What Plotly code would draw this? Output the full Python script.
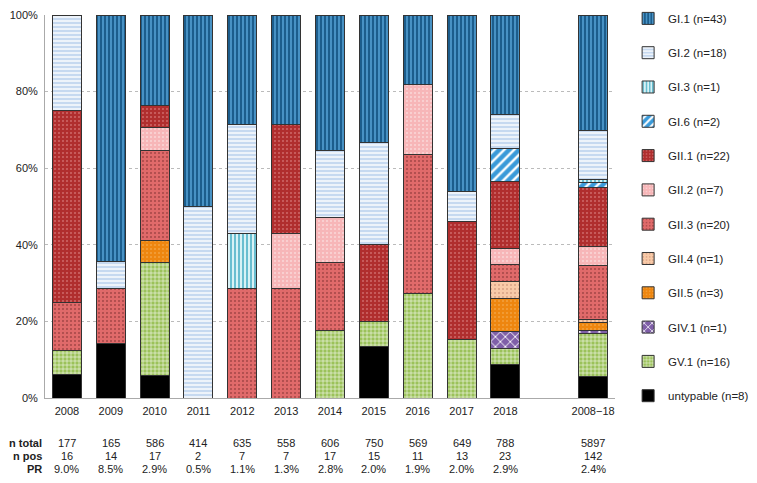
import plotly.graph_objects as go

# ---------------- data ----------------
years = ["2008", "2009", "2010", "2011", "2012", "2013", "2014", "2015",
         "2016", "2017", "2018", "2008\u221218"]
n_total = [177, 165, 586, 414, 635, 558, 606, 750, 569, 649, 788, 5897]
n_pos = [16, 14, 17, 2, 7, 7, 17, 15, 11, 13, 23, 142]
pr = ["9.0%", "8.5%", "2.9%", "0.5%", "1.1%", "1.3%", "2.8%", "2.0%",
      "1.9%", "2.0%", "2.9%", "2.4%"]

# counts per year (last value = 2008-18 total), stacked bottom -> top
untypable = [1, 2, 1, 0, 0, 0, 0, 2, 0, 0, 2, 8]
gv1 = [1, 0, 5, 0, 0, 0, 3, 1, 3, 2, 1, 16]
giv1 = [0, 0, 0, 0, 0, 0, 0, 0, 0, 0, 1, 1]
gii5 = [0, 0, 1, 0, 0, 0, 0, 0, 0, 0, 2, 3]
gii4 = [0, 0, 0, 0, 0, 0, 0, 0, 0, 0, 1, 1]
gii3 = [2, 2, 4, 0, 2, 2, 3, 0, 4, 0, 1, 20]
gii2 = [0, 0, 1, 0, 0, 1, 2, 0, 2, 0, 1, 7]
gii1 = [8, 0, 1, 0, 0, 2, 0, 3, 0, 4, 4, 22]
gi6 = [0, 0, 0, 0, 0, 0, 0, 0, 0, 0, 2, 2]
gi3 = [0, 0, 0, 0, 1, 0, 0, 0, 0, 0, 0, 1]
gi2 = [4, 1, 0, 1, 2, 0, 3, 4, 0, 1, 2, 18]
gi1 = [0, 9, 4, 1, 2, 2, 6, 5, 2, 6, 6, 43]

series = [
    ("untypable", untypable, "#000000", "", "#000000"),
    ("GV.1", gv1, "#9bc25a", "+", "#ffffff"),
    ("GIV.1", giv1, "#7f5fa8", "x", "#ffffff"),
    ("GII.5", gii5, "#ee860f", ".", "#f9c27a"),
    ("GII.4", gii4, "#f8caa8", ".", "#b0705a"),
    ("GII.3", gii3, "#e06a6a", ".", "#5a1a1a"),
    ("GII.2", gii2, "#f7b6b8", ".", "#ffffff"),
    ("GII.1", gii1, "#b02e2e", ".", "#f4b0b0"),
    ("GI.6", gi6, "#3a9ad9", "/", "#ffffff"),
    ("GI.3", gi3, "#d8f2f6", "|", "#3aa8c0"),
    ("GI.2", gi2, "#c6d9f0", "-", "#ffffff"),
    ("GI.1", gi1, "#1c5d8c", "|", "#5aa8dc"),
]

# positions: one empty slot between 2018 and 2008-18
positions = list(range(len(years) - 1)) + [len(years)]

fig = go.Figure()
nser = len(series)
for i, (name, vals, color, shape, fg) in enumerate(series):
    total = vals[-1]
    pct = [100.0 * v / n for v, n in zip(vals, n_pos)]
    pattern = dict(shape=shape, fgcolor=fg, bgcolor=color, fillmode="replace")
    if shape in ("|", "-"):
        pattern.update(size=4, solidity=0.35)
    elif shape == ".":
        pattern.update(size=4, solidity=0.08)
    elif shape == "+":
        pattern.update(size=4, solidity=0.25)
    elif shape == "/":
        pattern.update(size=7, solidity=0.35)
    elif shape == "x":
        pattern.update(size=7, solidity=0.25)
    fig.add_trace(go.Bar(
        x=positions, y=pct,
        name=f"{name} (n={total})",
        legendgroup=name,
        legendrank=nser - i,
        marker=dict(color=color, pattern=pattern,
                    line=dict(color="#333333", width=1)),
        width=0.66,
    ))

# bottom table
row_labels = ["n total", "n pos", "PR"]
row_vals = [n_total, n_pos, pr]
row_y = [-0.118, -0.152, -0.186]
for lab, vals, yy in zip(row_labels, row_vals, row_y):
    fig.add_annotation(text=f"<b>{lab}</b>", xref="paper", yref="paper",
                       x=-0.001, y=yy, xanchor="right", yanchor="middle",
                       showarrow=False, font=dict(size=11, color="#222222"))
    for p, v in zip(positions, vals):
        fig.add_annotation(text=str(v), xref="x", yref="paper",
                           x=p, y=yy, xanchor="center", yanchor="middle",
                           showarrow=False, font=dict(size=11, color="#222222"))

# page body has an 8px margin, so the figure is drawn 8px in from the corner
fig.update_layout(
    barmode="stack",
    width=749, height=475,
    margin=dict(l=37, r=142, t=7, b=85, autoexpand=False),
    paper_bgcolor="white", plot_bgcolor="white",
    font=dict(family="Liberation Sans, Arial, sans-serif", size=11, color="#222222"),
    showlegend=True,
    legend=dict(x=1.023, y=1.029, xanchor="left", yanchor="top",
                traceorder="grouped", tracegroupgap=15.3, maxheight=480,
                font=dict(size=11.5), itemwidth=30, bgcolor="rgba(0,0,0,0)"),
    xaxis=dict(
        tickmode="array", tickvals=positions, ticktext=years,
        range=[-0.5, len(years) + 0.5], showgrid=False,
        showline=True, linecolor="#aaaaaa", linewidth=1,
        ticks="", ticklabelstandoff=3,
    ),
    yaxis=dict(
        range=[0, 100], tickvals=[0, 20, 40, 60, 80, 100],
        ticktext=["0%", "20%", "40%", "60%", "80%", "100%"],
        showgrid=True, gridcolor="#bbbbbb", griddash="3px,3px", gridwidth=1,
        showline=True, linecolor="#aaaaaa", linewidth=1, zeroline=False,
        ticks="", ticklabelstandoff=4, ticklabeloverflow="allow",
    ),
)

fig.write_html("out.html")
